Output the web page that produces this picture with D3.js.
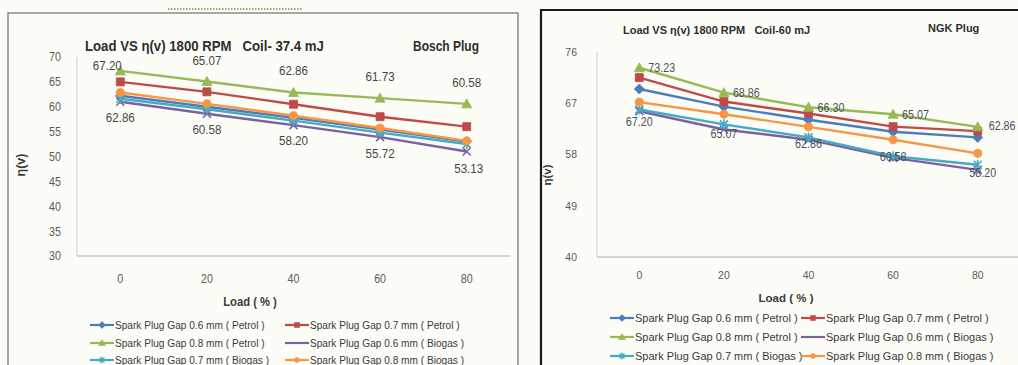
<!DOCTYPE html>
<html>
<head>
<meta charset="utf-8">
<script src="https://cdn.jsdelivr.net/npm/d3@7"></script>
<style>
  html, body { margin: 0; padding: 0; background: #fdfdf8; }
  svg { display: block; font-family: "Liberation Sans", Arimo, sans-serif; }
  text { white-space: pre; }
</style>
</head>
<body>
<svg id="chart" width="1018" height="365"></svg>
<script>
// Engine load steps (%)
const loads = ["0", "20", "40", "60", "80"];

// Series shown in both panels
const seriesNames = [
  "Spark Plug Gap 0.6 mm ( Petrol )",
  "Spark Plug Gap 0.7 mm ( Petrol )",
  "Spark Plug Gap 0.8 mm ( Petrol )",
  "Spark Plug Gap 0.6 mm ( Biogas )",
  "Spark Plug Gap 0.7 mm ( Biogas )",
  "Spark Plug Gap 0.8 mm ( Biogas )"
];
const seriesColors = ["#4a7ebb", "#be4b48", "#98b954", "#7d60a0", "#46aac5", "#f79646"];
const seriesMarkers = ["diamond", "square", "triangle", "x", "star", "circle"];

// Volumetric efficiency, Bosch plug, 37.4 mJ coil
const boschGap06Petrol = [62.2, 60.0, 57.8, 55.4, 53.0];
const boschGap07Petrol = [65.0, 63.0, 60.5, 58.0, 56.0];
const boschGap08Petrol = [67.20, 65.07, 62.86, 61.73, 60.58];
const boschGap06Biogas = [61.0, 58.6, 56.3, 53.9, 51.0];
const boschGap07Biogas = [61.6, 59.5, 57.2, 54.8, 52.5];
const boschGap08Biogas = [62.86, 60.58, 58.20, 55.72, 53.13];

// Volumetric efficiency, NGK plug, 60 mJ coil
const ngkGap06Petrol = [69.5, 66.4, 64.1, 62.0, 61.0];
const ngkGap07Petrol = [71.5, 67.3, 65.2, 62.9, 62.1];
const ngkGap08Petrol = [73.23, 68.86, 66.30, 65.07, 62.86];
const ngkGap06Biogas = [65.6, 62.4, 60.6, 57.4, 55.3];
const ngkGap07Biogas = [65.9, 63.3, 61.0, 57.7, 56.2];
const ngkGap08Biogas = [67.20, 65.07, 62.86, 60.58, 58.20];

// Axis ticks
const boschTicks = [30, 35, 40, 45, 50, 55, 60, 65, 70];
const ngkTicks = [40, 49, 58, 67, 76];

const svg = d3.select("#chart");
const fmt = d3.format(".2f");

// text placed by transform so it can be condensed horizontally
function label(parent, x, y, str, o = {}) {
  const t = parent.append("text")
    .attr("transform", `translate(${x},${y})${o.rotate ? " rotate(" + o.rotate + ")" : ""} scale(${o.sx || 1},1)`)
    .attr("text-anchor", o.anchor || "start")
    .attr("font-size", o.size || 12)
    .attr("fill", o.fill || "#444")
    .text(str);
  if (o.bold) t.attr("font-weight", "bold");
  if (o.mid) t.attr("dy", "0.35em");
  return t;
}

function markerPath(kind, s) {
  const h = s / 2;
  switch (kind) {
    case "diamond": return `M0,${-h - 1}L${h + 1},0L0,${h + 1}L${-h - 1},0Z`;
    case "square": return `M${-h},${-h}H${h}V${h}H${-h}Z`;
    case "triangle": return `M0,${-h - 1}L${h + 1},${h}L${-h - 1},${h}Z`;
    case "x": return `M${-h},${-h}L${h},${h}M${h},${-h}L${-h},${h}`;
    case "star": return `M${-h},${-h}L${h},${h}M${h},${-h}L${-h},${h}M0,${-h - 1}V${h + 1}`;
    default: return d3.symbol(d3.symbolCircle, s * s * 0.8)();
  }
}

function drawPanel(cfg) {
  const g = svg.append("g");

  // panel frame
  g.append("path")
    .attr("d", `M${cfg.frame.x},${cfg.frame.y + 400}V${cfg.frame.y}H${cfg.frame.x2}V${cfg.frame.y + 400}`)
    .attr("fill", "none")
    .attr("stroke", cfg.frame.stroke)
    .attr("stroke-width", cfg.frame.width);

  const x = d3.scaleBand().domain(loads).range([cfg.left, cfg.right]);
  const y = d3.scaleLinear().domain(cfg.domain).range([cfg.bottom, cfg.top]);
  const cx = d => x(d) + x.bandwidth() / 2;

  // axis lines
  g.append("line").attr("x1", cfg.left).attr("x2", cfg.left)
    .attr("y1", cfg.top).attr("y2", cfg.bottom)
    .attr("stroke", "#d4d4d0").attr("stroke-width", 1.2);
  g.append("line").attr("x1", cfg.left).attr("x2", cfg.right)
    .attr("y1", cfg.bottom).attr("y2", cfg.bottom)
    .attr("stroke", "#c8c8c4").attr("stroke-width", 1.5);

  // tick labels
  cfg.ticks.forEach(t => label(g, cfg.left - cfg.yTickGap, y(t), String(t),
    { anchor: "end", mid: true, size: cfg.tickSize, sx: cfg.tickSx, fill: "#5a5a5a" }));
  loads.forEach(d => label(g, cx(d), cfg.xTickY, d,
    { anchor: "middle", size: cfg.tickSize, sx: cfg.tickSx, fill: "#5a5a5a" }));

  // axis titles
  label(g, cfg.xTitle[0], cfg.xTitle[1], "Load ( % )",
    { anchor: "middle", bold: true, size: cfg.titleSize, sx: cfg.titleSx, fill: "#3a3a3a" });
  label(g, cfg.yTitle[0], cfg.yTitle[1], "η(v)",
    { anchor: "middle", bold: true, size: cfg.titleSize, rotate: -90, fill: "#3a3a3a" });

  // chart headings
  label(g, cfg.title[0], cfg.title[1], cfg.titleText,
    { bold: true, size: cfg.headSize, sx: cfg.titleTextSx, fill: "#2e2e2e" });
  label(g, cfg.plug[0], cfg.plug[1], cfg.plugText,
    { bold: true, size: cfg.headSize, sx: cfg.plugSx, fill: "#2e2e2e" });

  // series lines and markers
  const line = d3.line().x((d, i) => cx(loads[i])).y(d => y(d));
  cfg.series.forEach((vals, si) => {
    const col = seriesColors[si];
    g.append("path").datum(vals).attr("d", line)
      .attr("fill", "none").attr("stroke", col).attr("stroke-width", 2.4);
    const kind = seriesMarkers[si];
    const stroked = kind === "x" || kind === "star";
    g.selectAll(null).data(vals).join("path")
      .attr("transform", (d, i) => `translate(${cx(loads[i])},${y(d)})`)
      .attr("d", markerPath(kind, cfg.markerSize))
      .attr("fill", stroked ? "none" : col)
      .attr("stroke", col).attr("stroke-width", stroked ? 1.6 : 0.8);
  });

  // value labels
  const lab = g.append("g");
  cfg.upper.vals.forEach((v, i) => {
    const off = cfg.upper.offsets[i];
    label(lab, cx(loads[i]) + off[0], y(v) + off[1], fmt(v),
      { anchor: cfg.upper.anchor, mid: true, size: cfg.labelSize, sx: cfg.labelSx, fill: cfg.labelFill });
  });
  cfg.lower.vals.forEach((v, i) => {
    const off = cfg.lower.offsets[i];
    label(lab, cx(loads[i]) + off[0], y(v) + off[1], fmt(v),
      { anchor: "middle", mid: true, size: cfg.labelSize, sx: cfg.labelSx, fill: cfg.labelFill });
  });

  // legend: 2 columns x 3 rows
  const leg = g.append("g");
  seriesNames.forEach((name, i) => {
    const col = i % 2, row = Math.floor(i / 2);
    const lx = cfg.legend.x[col], ly = cfg.legend.y[row];
    leg.append("line").attr("x1", lx).attr("x2", lx + 24).attr("y1", ly).attr("y2", ly)
      .attr("stroke", seriesColors[i]).attr("stroke-width", 2.2);
    const kind = seriesMarkers[i];
    if (kind !== "x") {
      const stroked = kind === "star";
      leg.append("path").attr("transform", `translate(${lx + 12},${ly})`)
        .attr("d", markerPath(kind, 5))
        .attr("fill", stroked ? "none" : seriesColors[i])
        .attr("stroke", seriesColors[i]).attr("stroke-width", stroked ? 1.2 : 0.6);
    }
    label(leg, lx + 25, ly, name,
      { mid: true, size: cfg.legendSize, sx: cfg.legendSx, fill: "#3a3a3a" });
  });
}

// small dotted remnant above the left panel
svg.append("line").attr("x1", 168).attr("x2", 302).attr("y1", 9).attr("y2", 9)
  .attr("stroke", "#8cb37a").attr("stroke-width", 2).attr("stroke-dasharray", "1.5,1.5");

drawPanel({
  frame: { x: 8, y: 13, x2: 518, stroke: "#8a8a8a", width: 1.5 },
  left: 77, right: 510, top: 57, bottom: 256,
  domain: [30, 70], ticks: boschTicks, yTickGap: 16,
  tickSize: 12.5, tickSx: 0.86, xTickY: 283,
  titleSize: 12.5, titleSx: 0.9, xTitle: [250, 306], yTitle: [25, 165],
  headSize: 15, title: [85, 51], titleTextSx: 0.88, titleText: "Load VS η(v) 1800 RPM   Coil- 37.4 mJ",
  plug: [413, 51], plugSx: 0.8, plugText: "Bosch Plug",
  series: [boschGap06Petrol, boschGap07Petrol, boschGap08Petrol, boschGap06Biogas, boschGap07Biogas, boschGap08Biogas],
  markerSize: 8,
  labelSize: 13.5, labelSx: 0.86, labelFill: "#454545",
  upper: { vals: boschGap08Petrol, anchor: "middle", offsets: [[-13, -6], [0, -21], [0, -22], [0, -22], [0, -22]] },
  lower: { vals: boschGap08Biogas, offsets: [[0, 25], [0, 25], [0, 25], [0, 25], [2, 27]] },
  legendSize: 11.5, legendSx: 0.88,
  legend: { x: [90, 285], y: [325, 343, 360] }
});

drawPanel({
  frame: { x: 541, y: 10, x2: 1030, stroke: "#1a1a1a", width: 2.2 },
  left: 597, right: 1020, top: 52, bottom: 257,
  domain: [40, 76], ticks: ngkTicks, yTickGap: 20,
  tickSize: 11, tickSx: 0.95, xTickY: 279,
  titleSize: 11.5, titleSx: 1, xTitle: [786, 302], yTitle: [551, 175],
  headSize: 11, title: [623, 34], titleTextSx: 1, titleText: "Load VS η(v) 1800 RPM   Coil-60 mJ",
  plug: [928, 32], plugSx: 1, plugText: "NGK Plug",
  series: [ngkGap06Petrol, ngkGap07Petrol, ngkGap08Petrol, ngkGap06Biogas, ngkGap07Biogas, ngkGap08Biogas],
  markerSize: 8,
  labelSize: 12.5, labelSx: 0.86, labelFill: "#48505a",
  upper: { vals: ngkGap08Petrol, anchor: "start", offsets: [[9, 0], [9, 0], [9, 0], [9, 0], [11, -1]] },
  lower: { vals: ngkGap08Biogas, offsets: [[0, 19], [0, 19], [0, 17], [0, 17], [5, 19]] },
  legendSize: 11, legendSx: 1,
  legend: { x: [610, 801], y: [318, 337, 356] }
});
</script>
</body>
</html>
